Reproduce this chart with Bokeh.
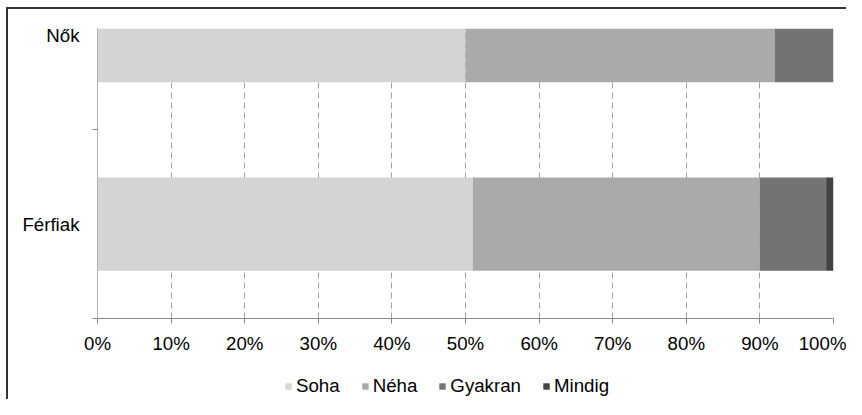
from bokeh.plotting import figure
from bokeh.layouts import column
from bokeh.models import (ColumnDataSource, Range1d, FixedTicker, PrintfTickFormatter,
                          Legend, LegendItem)
from bokeh.embed import file_html
from bokeh.resources import INLINE

categories = ["Férfiak", "Nők"]
series = ["Soha", "Néha", "Gyakran", "Mindig"]
soha = [51, 50]
neha = [39, 42]
gyakran = [9, 8]
mindig = [1, 0]
x_ticks = [0, 10, 20, 30, 40, 50, 60, 70, 80, 90, 100]

colors = ["#d4d4d4", "#aaaaaa", "#737373", "#434343"]
FONT = "Liberation Sans"
FS = "18.7px"
FRAME = "#333333"

ypos = [i + 0.5 for i in range(len(categories))]
src = ColumnDataSource(dict(y=ypos, Soha=soha, Néha=neha, Gyakran=gyakran, Mindig=mindig))

p = figure(width=846, height=356, output_backend="svg", toolbar_location=None,
           x_range=Range1d(0, 100), y_range=Range1d(0, 1.537),
           min_border_left=97, min_border_right=13, min_border_top=28, min_border_bottom=36)
p.styles = {"box-shadow": f"inset 6px 7px 0px 0px #ffffff, inset 8px 9px 0px 0px {FRAME}"}
p.outline_line_color = None
p.background_fill_color = "white"
p.border_fill_color = None

renderers = p.hbar_stack(series, y="y", height=0.495, color=colors, source=src,
                         line_color=None)

# x axis
xa = p.xaxis[0]
xa.ticker = FixedTicker(ticks=x_ticks)
xa.formatter = PrintfTickFormatter(format="%d%%")
xa.axis_line_color = "#868686"
xa.major_tick_line_color = "#868686"
xa.major_tick_out = 5
xa.major_tick_in = 0
xa.minor_tick_line_color = None
xa.major_label_standoff = 9
xa.major_label_text_font = FONT
xa.major_label_text_font_size = FS
xa.major_label_text_color = "black"

# y axis
ya = p.yaxis[0]
ya.ticker = FixedTicker(ticks=ypos, minor_ticks=[0, 1])
ya.major_label_overrides = {ypos[i]: categories[i] for i in range(len(categories))}
ya.axis_line_color = "#b0b0b0"
ya.major_tick_line_color = None
ya.major_tick_out = 0
ya.major_tick_in = 0
ya.minor_tick_line_color = "#868686"
ya.minor_tick_out = 5
ya.minor_tick_in = 0
ya.major_label_standoff = 13
ya.major_label_text_font = FONT
ya.major_label_text_font_size = FS
ya.major_label_text_color = "black"

p.xgrid.grid_line_color = "#a0a0a0"
p.xgrid.grid_line_dash = "6 4"
p.xgrid.grid_line_width = 1
p.ygrid.grid_line_color = None

# legend strip below the chart (same data, bars kept out of view)
lf = figure(width=846, height=43, output_backend="svg", toolbar_location=None,
            x_range=Range1d(1000, 1001), y_range=Range1d(1000, 1001),
            x_axis_location=None, y_axis_location=None, min_border=0)
lf.styles = {"box-shadow": f"inset 6px 0px 0px 0px #ffffff, inset 8px 0px 0px 0px {FRAME}"}
lf.outline_line_color = None
lf.background_fill_color = None
lf.border_fill_color = None
lf.xgrid.grid_line_color = None
lf.ygrid.grid_line_color = None
lrends = lf.hbar_stack(series, y="y", height=0.495, color=colors, source=src, line_color=None)

legend = Legend(items=[LegendItem(label=s, renderers=[r]) for s, r in zip(series, lrends)],
                orientation="horizontal", location=(187, 2),
                glyph_width=8, glyph_height=8, label_standoff=4, spacing=21,
                label_text_font=FONT, label_text_font_size=FS,
                label_text_color="black", border_line_color=None,
                background_fill_alpha=0, padding=0, margin=0)
lf.add_layout(legend, "center")

layout = column(p, lf, spacing=0)
open("out.html", "w").write(file_html(layout, INLINE))
